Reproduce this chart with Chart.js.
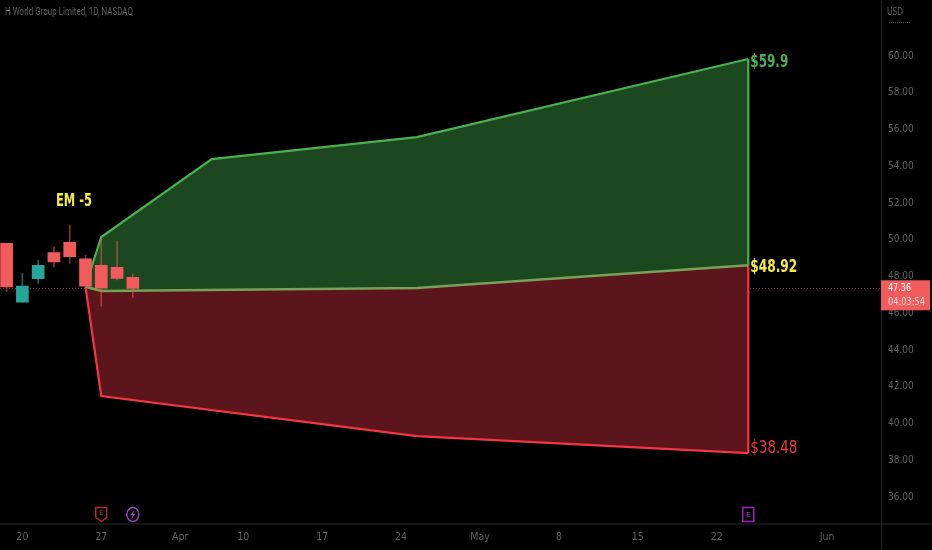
<!DOCTYPE html>
<html>
<head>
<meta charset="utf-8">
<title>H World Group Limited, 1D, NASDAQ</title>
<script src="https://cdn.jsdelivr.net/npm/chart.js@4"></script>
<style>
    html, body { margin: 0; padding: 0; background: #000; }
    #wrap { width: 932px; height: 550px; }
</style>
</head>
<body>
<div id="wrap"><canvas id="chart"></canvas></div>
<script>
// x is the trading-bar index, counted from the first candle on screen
var candleX = [0, 1, 2, 3, 4, 5, 6, 7, 8];
var candleOpen = [49.81, 46.60, 47.88, 49.30, 49.86, 48.97, 48.61, 48.50, 47.96];
var candleClose = [47.44, 47.48, 48.61, 48.79, 49.08, 47.48, 47.37, 47.90, 47.36];
var candleHigh = [49.81, 48.17, 48.90, 49.62, 50.80, 49.17, 50.17, 49.93, 48.14];
var candleLow = [47.17, 46.60, 47.63, 48.53, 48.72, 47.48, 46.39, 47.81, 46.87];

var upperX = [5, 6, 13, 26, 47];
var upperY = [47.50, 50.15, 54.39, 55.59, 59.84];
var middleX = [5, 6, 26, 47];
var middleY = [47.44, 47.21, 47.37, 48.62];
var lowerX = [5, 6, 26, 47];
var lowerY = [47.44, 41.50, 39.32, 38.39];

var yTicks = [36, 38, 40, 42, 44, 46, 48, 50, 52, 54, 56, 58, 60];
var xTickPos = [1, 6, 11, 15, 20, 25, 30, 35, 40, 45, 52];
var xTickLabels = ['20', '27', 'Apr', '10', '17', '24', 'May', '8', '15', '22', 'Jun'];

var lastPrice = 47.36;
var countdown = '04:03:54';

var UP = '#26a69a';
var DOWN = '#f15b5c';
var GREEN = '#4caf50';
var RED = '#f23645';
var YELLOW = '#f5ec42';
var AXIS_TEXT = '#606060';
var PANE_LINE = '#2a2a2a';
var COND_FONT = '"DejaVu Sans Condensed", "DejaVu Sans", sans-serif';

function pts(xs, ys) {
    return xs.map(function (x, i) { return { x: x, y: ys[i] }; });
}

function candleColors() {
    return candleOpen.map(function (o, i) { return candleClose[i] >= o ? UP : DOWN; });
}

function wickColors() {
    return candleOpen.map(function (o, i) {
        return candleClose[i] >= o ? 'rgba(38,166,154,0.6)' : 'rgba(241,91,92,0.55)';
    });
}

// ── Overlay: pane lines, price tag, labels and event icons ──
var overlay = {
    id: 'overlay',
    beforeDatasetsDraw: function (chart) {
        var c = chart.ctx, a = chart.chartArea, py = chart.scales.y.getPixelForValue(lastPrice);
        c.save();
        c.strokeStyle = '#7a3034';
        c.lineWidth = 1;
        c.setLineDash([1, 2]);
        c.beginPath();
        c.moveTo(0, Math.round(py) + 0.5);
        c.lineTo(a.right, Math.round(py) + 0.5);
        c.stroke();
        c.restore();
    },
    afterDraw: function (chart) {
        var c = chart.ctx, a = chart.chartArea, sx = chart.scales.x, sy = chart.scales.y;
        c.save();
        c.strokeStyle = PANE_LINE;
        c.lineWidth = 1;
        c.beginPath();
        c.moveTo(a.right + 0.5, 0); c.lineTo(a.right + 0.5, 550);
        c.moveTo(0, a.bottom + 0.5); c.lineTo(932, a.bottom + 0.5);
        c.stroke();

        c.textBaseline = 'middle';
        c.textAlign = 'left';
        c.font = '11px Roboto, sans-serif';
        c.fillStyle = '#626262';
        c.fillText('H World Group Limited, 1D, NASDAQ', 5, 12, 128);

        c.fillStyle = AXIS_TEXT;
        c.font = '11px ' + COND_FONT;
        c.fillText('USD', 887, 12, 16);
        c.strokeStyle = '#444';
        c.setLineDash([1, 1]);
        c.beginPath();
        c.moveTo(889, 22.5); c.lineTo(911, 22.5);
        c.stroke();
        c.setLineDash([]);

        // last price tag
        var py = sy.getPixelForValue(lastPrice);
        c.fillStyle = DOWN;
        c.fillRect(a.right, py - 8, 49, 30);
        c.fillStyle = '#ffffff';
        c.font = '11px ' + COND_FONT;
        c.fillText(lastPrice.toFixed(2), 888, py, 23);
        c.fillStyle = '#ffd9d9';
        c.fillText(countdown, 888, py + 14, 37);

        // range labels
        var lx = sx.getPixelForValue(47) + 2;
        c.font = 'bold 18px ' + COND_FONT;
        c.fillStyle = GREEN;
        c.fillText('$59.9', lx, sy.getPixelForValue(upperY[4]) + 3, 38);
        c.fillStyle = YELLOW;
        c.fillText('$48.92', lx, sy.getPixelForValue(middleY[3]) + 2, 47);
        c.font = '18px ' + COND_FONT;
        c.fillStyle = RED;
        c.fillText('$38.48', lx, sy.getPixelForValue(lowerY[3]) - 5, 47);
        c.font = 'bold 18px ' + COND_FONT;
        c.fillStyle = YELLOW;
        c.fillText('EM -5', 56, 201, 36);

        drawEarnings(c, sx.getPixelForValue(6), 514);
        drawBolt(c, sx.getPixelForValue(8), 514.5);
        drawEarningsBox(c, sx.getPixelForValue(47), 514.5);
        c.restore();
    }
};

function drawEarnings(c, x, y) {
    c.strokeStyle = '#c2263a';
    c.lineWidth = 1.4;
    c.beginPath();
    c.moveTo(x - 5.5, y - 6.5);
    c.lineTo(x + 5.5, y - 6.5);
    c.lineTo(x + 5.5, y + 3.5);
    c.lineTo(x, y + 7.5);
    c.lineTo(x - 5.5, y + 3.5);
    c.closePath();
    c.stroke();
    c.fillStyle = '#b03040';
    c.font = '8px Roboto, sans-serif';
    c.textAlign = 'center';
    c.fillText('E', x, y - 1);
}

function drawBolt(c, x, y) {
    c.strokeStyle = '#9c3fc4';
    c.lineWidth = 1.4;
    c.beginPath();
    c.ellipse(x, y, 6, 7, 0, 0, Math.PI * 2);
    c.stroke();
    c.fillStyle = '#a04fd0';
    c.beginPath();
    c.moveTo(x + 1.5, y - 4.5);
    c.lineTo(x - 2.5, y + 0.8);
    c.lineTo(x - 0.2, y + 0.8);
    c.lineTo(x - 1.5, y + 4.5);
    c.lineTo(x + 2.5, y - 0.8);
    c.lineTo(x + 0.2, y - 0.8);
    c.closePath();
    c.fill();
}

function drawEarningsBox(c, x, y) {
    c.strokeStyle = '#a01fc0';
    c.lineWidth = 1.5;
    c.strokeRect(x - 5.5, y - 7, 11, 14);
    c.fillStyle = '#a050c0';
    c.font = '8px Roboto, sans-serif';
    c.textAlign = 'center';
    c.fillText('E', x, y);
}

new Chart(document.getElementById('chart'), {
    data: {
        datasets: [
            // candle bodies and wicks sit on top of the range shapes
            {
                type: 'bar',
                label: 'body',
                data: candleX.map(function (x, i) { return { x: x, y: [candleOpen[i], candleClose[i]] }; }),
                backgroundColor: candleColors(),
                barThickness: 12,
                grouped: false,
                order: 1
            },
            {
                type: 'bar',
                label: 'wick',
                data: candleX.map(function (x, i) { return { x: x, y: [candleLow[i], candleHigh[i]] }; }),
                backgroundColor: wickColors(),
                barThickness: 1,
                grouped: false,
                order: 2
            },
            {
                type: 'line',
                label: 'middle',
                data: pts(middleX, middleY),
                borderColor: '#76a25a',
                borderWidth: 2.5,
                pointRadius: 0,
                tension: 0,
                fill: false,
                order: 3
            },
            {
                type: 'line',
                label: 'upper',
                data: pts(upperX, upperY),
                borderColor: GREEN,
                borderWidth: 2.2,
                pointRadius: 0,
                tension: 0,
                fill: { target: 2, above: '#1b481f', below: '#1b481f' },
                order: 4
            },
            {
                type: 'line',
                label: 'lower',
                data: pts(lowerX, lowerY),
                borderColor: RED,
                borderWidth: 2.2,
                pointRadius: 0,
                tension: 0,
                fill: { target: 2, above: '#5c161b', below: '#5c161b' },
                order: 4
            },
            {
                type: 'line',
                label: 'upper edge',
                data: [{ x: upperX[4], y: upperY[4] }, { x: middleX[3], y: middleY[3] }],
                borderColor: GREEN,
                borderWidth: 2.2,
                pointRadius: 0,
                order: 3
            },
            {
                type: 'line',
                label: 'lower edge',
                data: [{ x: middleX[3], y: middleY[3] }, { x: lowerX[3], y: lowerY[3] }],
                borderColor: RED,
                borderWidth: 2.2,
                pointRadius: 0,
                order: 3
            }
        ]
    },
    options: {
        responsive: true,
        maintainAspectRatio: false,
        animation: false,
        layout: { padding: 0 },
        plugins: { legend: { display: false }, tooltip: { enabled: false } },
        scales: {
            x: {
                type: 'linear',
                min: -0.418,
                max: 55.41,
                offset: false,
                grid: { display: false, drawTicks: false },
                border: { display: false },
                afterFit: function (s) {
                    s.height = 26.5;
                    s.paddingLeft = 0;
                    s.paddingRight = 0;
                },
                afterBuildTicks: function (s) {
                    s.ticks = xTickPos.map(function (v) { return { value: v }; });
                },
                ticks: {
                    autoSkip: false,
                    maxRotation: 0,
                    padding: 7,
                    color: AXIS_TEXT,
                    font: { family: COND_FONT, size: 10.5 },
                    callback: function (v) { return xTickLabels[xTickPos.indexOf(v)]; }
                }
            },
            y: {
                type: 'linear',
                position: 'right',
                min: 34.56,
                max: 63.05,
                grid: { display: false, drawTicks: false },
                border: { display: false },
                afterFit: function (s) {
                    s.width = 51;
                    s.paddingTop = 0;
                    s.paddingBottom = 0;
                },
                afterBuildTicks: function (s) {
                    s.ticks = yTicks.map(function (v) { return { value: v }; });
                },
                ticks: {
                    padding: 7,
                    color: AXIS_TEXT,
                    font: { family: COND_FONT, size: 10 },
                    callback: function (v) { return v.toFixed(2); }
                }
            }
        }
    },
    plugins: [overlay]
});
</script>
</body>
</html>
